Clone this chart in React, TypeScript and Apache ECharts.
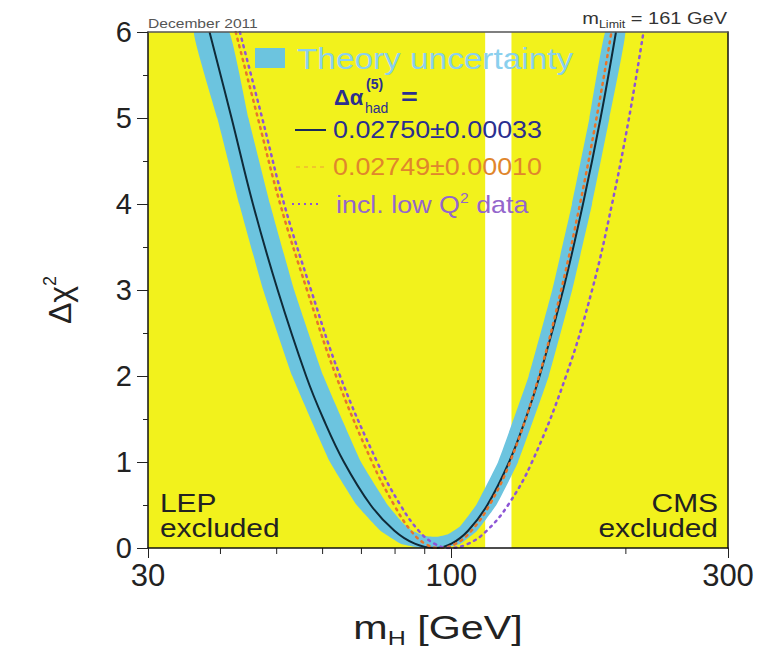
import React, { useEffect, useRef } from "react";
import * as echarts from "echarts";

// Higgs-mass fit: Δχ² versus m_H (log scale), December 2011
const xTickValues = [30, 100, 300];
const xMinorTicks = [40, 50, 60, 70, 80, 90, 200];
const yTickLabels = ["0", "1", "2", "3", "4", "5", "6"];

// excluded mass ranges [from, to] in GeV (LEP below, CMS above)
const excludedRanges = [
  [30, 114.4],
  [127, 300],
];

// theory-uncertainty band: lower and upper envelopes, [m_H, Δχ²]
const bandLower = [
  [36.0, 6], [39.5, 5], [43.1, 4], [47.4, 3], [53.2, 2], [61.8, 1], [68.7, 0.5],
  [75.5, 0.2], [81.8, 0.05], [88.7, 0], [97.1, 0], [103.8, 0.05], [110.8, 0.2],
  [119.6, 0.5], [130.4, 1], [147.3, 2], [161.6, 3], [174.9, 4], [187.4, 5], [199.6, 6],
];
const bandUpper = [
  [41.4, 6], [44.7, 5], [48.7, 4], [53.6, 3], [60.2, 2], [69.9, 1], [77.7, 0.5],
  [82.3, 0.3], [85.6, 0.2], [90.1, 0.14], [94.5, 0.13], [98.7, 0.16], [103.5, 0.25],
  [110.4, 0.5], [120.4, 1], [136.0, 2], [149.3, 3], [161.5, 4], [173.1, 5], [184.3, 6],
];

// Δα_had = 0.02750 ± 0.00033
const fitNominal = [
  [38.3, 6], [41.8, 5], [45.5, 4], [50.2, 3], [56.2, 2], [60.2, 1.5], [65.3, 1],
  [72.6, 0.5], [79.8, 0.2], [86.5, 0.05], [93.8, 0], [100.1, 0.05], [106.9, 0.2],
  [115.4, 0.5], [125.8, 1], [134.3, 1.5], [142.0, 2], [155.9, 3], [168.7, 4],
  [180.9, 5], [192.3, 6],
];
// Δα_had = 0.02749 ± 0.00010
const fitAlt = [
  [42.5, 6], [46.4, 5], [50.7, 4], [56.4, 3], [63.3, 2], [73.0, 1], [79.7, 0.5],
  [85.2, 0.2], [90.1, 0.05], [95.6, 0], [101.8, 0.05], [108.3, 0.2], [116.4, 0.5],
  [126.3, 1], [141.7, 2], [154.7, 3], [166.7, 4], [178.0, 5], [188.9, 6],
];
// including low-Q² data
const fitLowQ2 = [
  [43.2, 6], [47.2, 5], [51.5, 4], [57.3, 3], [64.3, 2], [74.5, 1], [81.7, 0.5],
  [87.9, 0.2], [93.5, 0.05], [99.5, 0], [107.0, 0.05], [115.1, 0.2], [125.3, 0.5],
  [137.8, 1], [157.7, 2], [174.9, 3], [189.3, 4], [202.5, 5], [214.5, 6],
];

const FONT = "'Liberation Sans', Arial, Helvetica, sans-serif";
const YELLOW = "#f2f21c";
const BAND = "#6cc4df";
const NAVY = "#2b2f8f";
const ORANGE = "#e8742a";
const PURPLE = "#8d55d6";
const INK = "#222";
const TOP = 50; // z of overlay texts

function buildOption() {
  const axisLineStyle = { color: "#111", width: 1.5 };
  return {
    animation: false,
    backgroundColor: "#ffffff",
    grid: { left: 148, top: 32, width: 580, height: 516, containLabel: false },
    xAxis: [
      {
        type: "log",
        logBase: 10,
        min: 30,
        max: 300,
        z: 10,
        axisLine: { show: true, lineStyle: axisLineStyle },
        axisTick: { show: true, length: 10, inside: false, lineStyle: { color: INK } },
        splitLine: { show: false },
        axisLabel: {
          margin: 12,
          fontSize: 31,
          color: INK,
          fontFamily: FONT,
          formatter: (v: number) => {
            const r = Math.round(v);
            return xTickValues.includes(r) ? String(r) : "";
          },
        },
      },
      {
        type: "value",
        position: "top",
        min: 0,
        max: 1,
        z: 10,
        axisLine: { show: true, onZero: false, lineStyle: { color: "#555", width: 1.5 } },
        axisTick: { show: false },
        axisLabel: { show: false },
        splitLine: { show: false },
      },
    ],
    yAxis: [
      {
        type: "value",
        min: 0,
        max: 6,
        interval: 1,
        z: 10,
        axisLine: { show: true, lineStyle: axisLineStyle },
        axisTick: { show: true, length: 11, inside: false, lineStyle: { color: INK } },
        minorTick: { show: true, splitNumber: 2, length: 5, lineStyle: { color: INK } },
        splitLine: { show: false },
        axisLabel: {
          margin: 16,
          fontSize: 29,
          color: INK,
          fontFamily: FONT,
          formatter: (v: number) => yTickLabels[Math.round(v)] ?? "",
        },
      },
      {
        type: "value",
        position: "right",
        min: 0,
        max: 1,
        z: 10,
        axisLine: { show: true, onZero: false, lineStyle: axisLineStyle },
        axisTick: { show: false },
        axisLabel: { show: false },
        splitLine: { show: false },
      },
    ],
    series: [
      {
        name: "excluded",
        type: "custom",
        z: 1,
        silent: true,
        data: excludedRanges,
        renderItem: (_p: any, api: any) => {
          const a = api.coord([api.value(0), 6]);
          const b = api.coord([api.value(1), 0]);
          return {
            type: "rect",
            shape: { x: a[0], y: a[1], width: b[0] - a[0], height: b[1] - a[1] },
            style: { fill: YELLOW },
          };
        },
      },
      {
        name: "Theory uncertainty",
        type: "custom",
        z: 2,
        silent: true,
        clip: true,
        data: [[100, 1]],
        renderItem: (_p: any, api: any) => {
          const pts = bandLower
            .map((d) => api.coord(d))
            .concat(bandUpper.slice().reverse().map((d) => api.coord(d)));
          return {
            type: "polygon",
            shape: { points: pts, smooth: 0.1 },
            style: { fill: BAND },
          };
        },
      },
      {
        name: "0.02750±0.00033",
        type: "line",
        z: 3,
        data: fitNominal,
        showSymbol: false,
        smooth: 0.4,
        lineStyle: { color: "#0f2a38", width: 2 },
      },
      {
        name: "0.02749±0.00010",
        type: "line",
        z: 4,
        data: fitAlt,
        showSymbol: false,
        smooth: 0.4,
        lineStyle: { color: ORANGE, width: 2.5, type: [2, 5], cap: "round" },
      },
      {
        name: "incl. low Q² data",
        type: "line",
        z: 5,
        data: fitLowQ2,
        showSymbol: false,
        smooth: 0.4,
        lineStyle: { color: PURPLE, width: 2.5, type: [2, 5], cap: "round" },
      },
      {
        name: "minor ticks",
        type: "custom",
        z: 10,
        silent: true,
        clip: false,
        data: xMinorTicks.map((v) => [v, 0]),
        renderItem: (_p: any, api: any) => {
          const p = api.coord([api.value(0), 0]);
          return {
            type: "line",
            shape: { x1: p[0], y1: p[1], x2: p[0], y2: p[1] + 6 },
            style: { stroke: INK, lineWidth: 1 },
          };
        },
      },
    ],
    graphic: [
      {
        type: "text",
        z: TOP,
        x: 148,
        y: 23,
        scaleX: 1.2,
        style: { text: "December 2011", fill: "#555", fontSize: 13, fontFamily: FONT, align: "left", verticalAlign: "middle" },
      },
      {
        type: "text",
        z: TOP,
        x: 727,
        y: 19,
        scaleX: 1.25,
        style: {
          text: "{m|m}{s|Limit}{m| = 161 GeV}",
          align: "right",
          verticalAlign: "middle",
          rich: {
            m: { fontSize: 16, fill: "#333", fontFamily: FONT, lineHeight: 20 },
            s: { fontSize: 10, fill: "#333", fontFamily: FONT, verticalAlign: "bottom", lineHeight: 20 },
          },
        },
      },
      // legend
      { type: "rect", z: TOP, shape: { x: 255, y: 48, width: 30, height: 20 }, style: { fill: BAND } },
      {
        type: "text",
        z: TOP,
        x: 297,
        y: 59,
        scaleX: 1.15,
        style: { text: "Theory uncertainty", fill: "#8ad0ee", fontSize: 29, fontFamily: FONT, align: "left", verticalAlign: "middle" },
      },
      {
        type: "text",
        z: TOP,
        x: 334,
        y: 97,
        style: { text: "Δα", fill: NAVY, fontSize: 22, fontWeight: "bold", fontFamily: FONT, align: "left", verticalAlign: "middle" },
      },
      {
        type: "text",
        z: TOP,
        x: 366,
        y: 84,
        style: { text: "(5)", fill: NAVY, fontSize: 14, fontWeight: "bold", fontFamily: FONT, align: "left", verticalAlign: "middle" },
      },
      {
        type: "text",
        z: TOP,
        x: 365,
        y: 108,
        style: { text: "had", fill: NAVY, fontSize: 14, fontFamily: FONT, align: "left", verticalAlign: "middle" },
      },
      {
        type: "text",
        z: TOP,
        x: 401,
        y: 97,
        scaleX: 1.2,
        style: { text: "=", fill: NAVY, fontSize: 24, fontWeight: "bold", fontFamily: FONT, align: "left", verticalAlign: "middle" },
      },
      { type: "line", z: TOP, shape: { x1: 295, y1: 130, x2: 326, y2: 130 }, style: { stroke: "#1a2a5a", lineWidth: 2 } },
      {
        type: "text",
        z: TOP,
        x: 333,
        y: 130,
        scaleX: 1.12,
        style: { text: "0.02750±0.00033", fill: NAVY, fontSize: 24, fontFamily: FONT, align: "left", verticalAlign: "middle" },
      },
      { type: "line", z: TOP, shape: { x1: 296, y1: 167, x2: 326, y2: 167 }, style: { stroke: "#f0c82a", lineWidth: 2, lineDash: [4, 4] } },
      {
        type: "text",
        z: TOP,
        x: 333,
        y: 167,
        scaleX: 1.12,
        style: { text: "0.02749±0.00010", fill: "#e0862c", fontSize: 24, fontFamily: FONT, align: "left", verticalAlign: "middle" },
      },
      { type: "line", z: TOP, shape: { x1: 292, y1: 204, x2: 320, y2: 204 }, style: { stroke: PURPLE, lineWidth: 2, lineDash: [2, 4] } },
      {
        type: "text",
        z: TOP,
        x: 336,
        y: 205,
        scaleX: 1.12,
        style: {
          text: "{t|incl. low Q}{s|2}{t| data}",
          align: "left",
          verticalAlign: "middle",
          rich: {
            t: { fontSize: 24, fill: "#9466cc", fontFamily: FONT, lineHeight: 28 },
            s: { fontSize: 14, fill: "#9466cc", fontFamily: FONT, verticalAlign: "top", lineHeight: 28 },
          },
        },
      },
      // excluded-region labels
      {
        type: "text",
        z: TOP,
        x: 160,
        y: 503,
        scaleX: 1.15,
        style: { text: "LEP", fill: INK, fontSize: 26, fontFamily: FONT, align: "left", verticalAlign: "middle" },
      },
      {
        type: "text",
        z: TOP,
        x: 160,
        y: 528,
        scaleX: 1.15,
        style: { text: "excluded", fill: INK, fontSize: 26, fontFamily: FONT, align: "left", verticalAlign: "middle" },
      },
      {
        type: "text",
        z: TOP,
        x: 718,
        y: 503,
        scaleX: 1.15,
        style: { text: "CMS", fill: INK, fontSize: 26, fontFamily: FONT, align: "right", verticalAlign: "middle" },
      },
      {
        type: "text",
        z: TOP,
        x: 718,
        y: 528,
        scaleX: 1.15,
        style: { text: "excluded", fill: INK, fontSize: 26, fontFamily: FONT, align: "right", verticalAlign: "middle" },
      },
      // axis titles
      {
        type: "text",
        z: TOP,
        x: 438,
        y: 628,
        scaleX: 1.25,
        style: {
          text: "{m|m}{s|H}{m| [GeV]}",
          align: "center",
          verticalAlign: "middle",
          rich: {
            m: { fontSize: 33, fill: INK, fontFamily: FONT, lineHeight: 40 },
            s: { fontSize: 20, fill: INK, fontFamily: FONT, verticalAlign: "bottom", lineHeight: 40 },
          },
        },
      },
      {
        type: "text",
        z: TOP,
        x: 60,
        y: 300,
        rotation: Math.PI / 2,
        style: {
          text: "{m|Δχ}{s|2}",
          align: "center",
          verticalAlign: "middle",
          rich: {
            m: { fontSize: 32, fill: INK, fontFamily: FONT, lineHeight: 38 },
            s: { fontSize: 18, fill: INK, fontFamily: FONT, verticalAlign: "top", lineHeight: 38 },
          },
        },
      },
    ],
  };
}

export default function App() {
  const ref = useRef<HTMLDivElement>(null);
  useEffect(() => {
    if (!ref.current) return;
    const chart = echarts.init(ref.current, undefined, { renderer: "svg" });
    chart.setOption(buildOption() as any);
    return () => chart.dispose();
  }, []);
  return (
    <div
      ref={ref}
      style={{ position: "fixed", left: 0, top: 0, width: 773, height: 659, background: "#fff" }}
    />
  );
}
